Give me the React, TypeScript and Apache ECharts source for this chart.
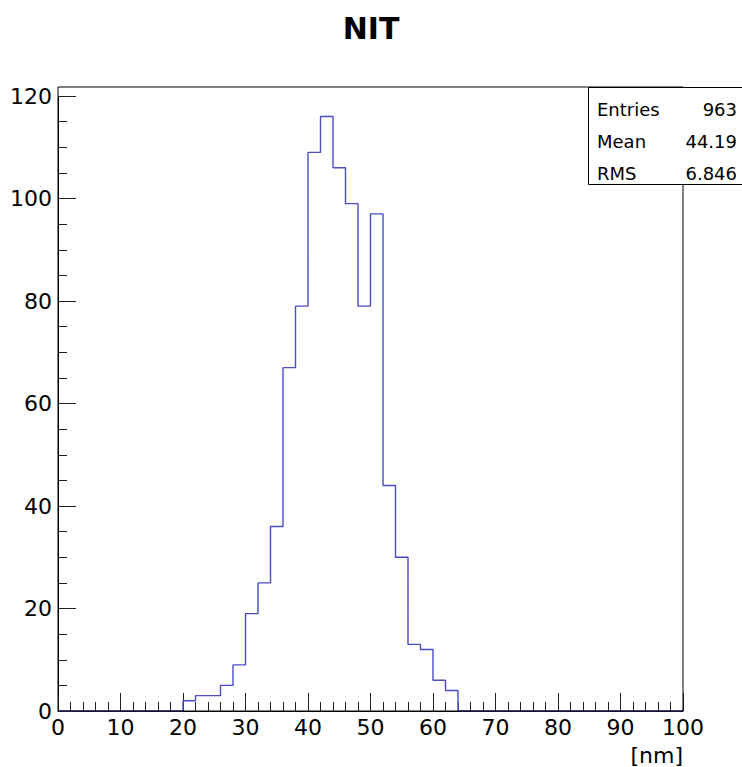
import React, { useEffect, useRef } from "react";
import * as echarts from "echarts";

// Histogram "NIT": 50 bins of width 2 nm from 0 to 100
const binWidth = 2;
const xMin = 0;
const xMax = 100;
const counts = [
  0, 0, 0, 0, 0, 0, 0, 0, 0, 0, // 0-20
  2, 3, 3, 5, 9, // 20-30
  19, 25, 36, 67, 79, // 30-40
  109, 116, 106, 99, 79, // 40-50
  97, 44, 30, 13, 12, // 50-60
  6, 4, 0, 0, 0, // 60-70
  0, 0, 0, 0, 0, 0, 0, 0, 0, 0, 0, 0, 0, 0, 0, // 70-100
];
const statsLabels = ["Entries", "Mean", "RMS"];
const statsValues = ["963", "44.19", "6.846"];
const titleText = "NIT";
const xAxisTitle = "[nm]";

const FONT = "DejaVu Sans";

export default function App() {
  const ref = useRef<HTMLDivElement>(null);
  useEffect(() => {
    if (!ref.current) return;
    const chart = echarts.init(ref.current, null, { renderer: "svg" });
    const pts: [number, number][] = counts.map((c, i) => [xMin + i * binWidth, c]);
    pts.push([xMax, 0]);

    const statsGraphics: any[] = [];
    statsLabels.forEach((lab, i) => {
      const y = 109 + i * 32;
      statsGraphics.push({
        type: "text",
        z: 101,
        style: { text: lab, x: 597, y, fill: "#000", font: `18px '${FONT}'`, textAlign: "left", textVerticalAlign: "middle" },
      });
      statsGraphics.push({
        type: "text",
        z: 101,
        style: { text: statsValues[i], x: 737, y, fill: "#000", font: `18px '${FONT}'`, textAlign: "right", textVerticalAlign: "middle" },
      });
    });

    chart.setOption({
      animation: false,
      backgroundColor: "#fff",
      grid: { left: 58, right: 59, top: 96, bottom: 56, show: false },
      xAxis: {
        type: "value",
        min: xMin,
        max: xMax,
        interval: 10,
        axisLine: { show: true, onZero: false, lineStyle: { color: "#000", width: 1 } },
        axisTick: { show: true, inside: true, length: 18, lineStyle: { color: "#222", width: 1 } },
        minorTick: { show: true, splitNumber: 5, length: 9, lineStyle: { color: "#222", width: 1 } },
        splitLine: { show: false },
        axisLabel: { color: "#000", fontSize: 22, fontFamily: FONT, margin: 5 },
      },
      yAxis: {
        type: "value",
        min: 0,
        max: 120,
        interval: 20,
        axisLine: { show: true, lineStyle: { color: "#000", width: 1 } },
        axisTick: { show: true, inside: true, length: 18, lineStyle: { color: "#222", width: 1 } },
        minorTick: { show: true, splitNumber: 4, length: 9, lineStyle: { color: "#222", width: 1 } },
        splitLine: { show: false },
        axisLabel: { color: "#000", fontSize: 22, fontFamily: FONT, margin: 6 },
      },
      series: [
        {
          type: "line",
          step: "end",
          data: pts,
          symbol: "none",
          lineStyle: { color: "#4b4bc6", width: 1.4 },
          z: 3,
        },
      ],
      graphic: [
        {
          type: "rect",
          z: 50,
          shape: { x: 58, y: 87, width: 625, height: 624 },
          style: { fill: "none", stroke: "#000", lineWidth: 1 },
        },
        {
          type: "text",
          z: 50,
          style: { text: titleText, x: 371, y: 28, fill: "#000", font: `bold 30px '${FONT}'`, textAlign: "center", textVerticalAlign: "middle" },
        },
        {
          type: "text",
          z: 50,
          style: { text: xAxisTitle, x: 683, y: 755, fill: "#000", font: `22px '${FONT}'`, textAlign: "right", textVerticalAlign: "middle" },
        },
        {
          type: "rect",
          z: 100,
          shape: { x: 588.5, y: 87.5, width: 160, height: 97 },
          style: { fill: "#fff", stroke: "#000", lineWidth: 1 },
        },
        ...statsGraphics,
      ],
    });
    return () => chart.dispose();
  }, []);
  return (
    <div
      ref={ref}
      style={{ position: "fixed", left: 0, top: 0, width: 742, height: 767 }}
    />
  );
}
